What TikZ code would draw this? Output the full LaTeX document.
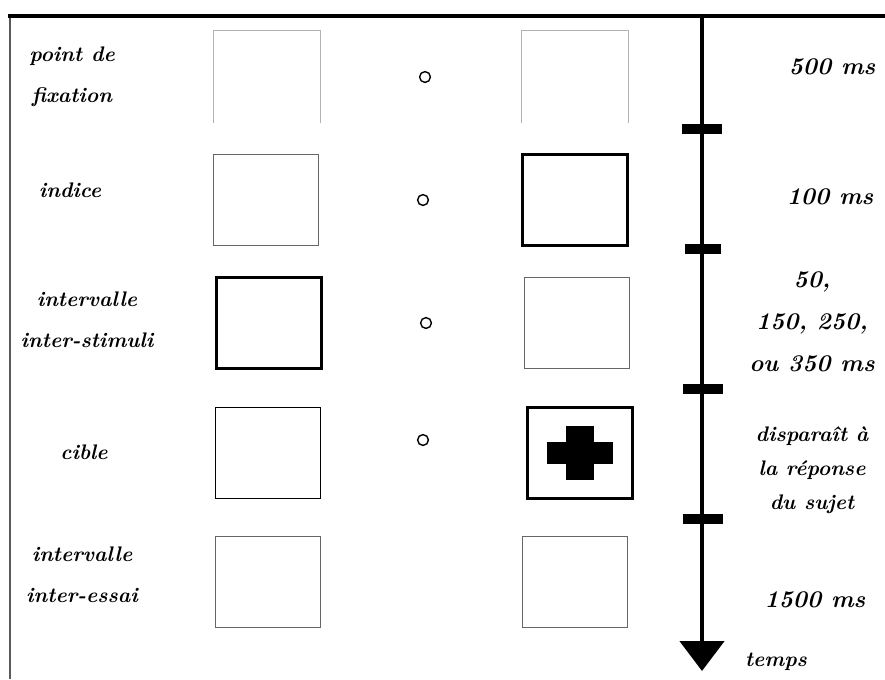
\documentclass[tikz,border=0pt]{standalone}
\usetikzlibrary{arrows.meta}
\tikzset{
  screen/.style={draw=gray!80!black, line width=1.2pt, minimum width=2.625cm, minimum height=2.275cm, inner sep=0pt},
  darkscreen/.style={screen, draw=black, line width=2pt},
  fixdot/.style={circle, draw, line width=1pt, minimum size=0.27cm, inner sep=0pt},
  timetick/.style={fill=black, minimum width=1cm, minimum height=0.25cm, inner sep=0pt},
  bar/.style={fill=black, inner sep=0pt},
  lbl/.style={align=center, inner sep=1pt, font=\fontsize{15}{29}\selectfont\bfseries\itshape},
  dur/.style={lbl, font=\fontsize{17}{30}\selectfont\bfseries\itshape},
}
\begin{document}
\begin{tikzpicture}[x=0.025cm,y=-0.025cm]
\useasboundingbox (0,0) rectangle (885,679);

% frame
\draw[gray!70!black, line width=1.2pt] (10,16) -- (10,679);
\draw[line width=2.2pt] (8,16) -- (885,16);

% screens, left and right of the fixation point
\node[screen, draw=none] (fixL) at (267,77) {};
\node[screen, draw=none] (fixR) at (575,77) {};
\draw[gray!60, line width=1.2pt] (fixL.south west) |- (fixL.north east) -- (fixL.south east);
\draw[gray!60, line width=1.2pt] (fixR.south west) |- (fixR.north east) -- (fixR.south east);
\node[screen] (cueL) at (266,200) {};
\node[darkscreen] (cueR) at (575,200) {};
\node[darkscreen, line width=1.6pt] (isiL) at (269,323) {};
\node[screen] (isiR) at (577,323) {};
\node[screen, draw=black] (tgtL) at (268,453) {};
\node[darkscreen] (tgtR) at (580,453) {};
\node[screen] (itiL) at (268,582) {};
\node[screen] (itiR) at (575,582) {};

% fixation point
\node[fixdot] (dot1) at (425,77) {};
\node[fixdot] (dot2) at (423,200) {};
\node[fixdot] (dot3) at (426,323) {};
\node[fixdot] (dot4) at (423,440) {};

% target
\node[bar, minimum width=1.65cm, minimum height=0.55cm] (crossH) at (tgtR) {};
\node[bar, minimum width=0.72cm, minimum height=1.33cm] (crossV) at (tgtR) {};

% time axis
\coordinate (tTop) at (702,16);
\coordinate (tEnd) at (702,671);
\draw[line width=3.5pt, -{Triangle[width=1.1cm, length=0.75cm]}] (tTop) -- (tEnd);
\node[timetick] (tick1) at (702,129) {};
\node[timetick, minimum width=0.9cm] (tick2) at (703,249) {};
\node[timetick] (tick3) at (703,389) {};
\node[timetick] (tick4) at (703,519) {};

% phase names
\node[lbl] (nFix) at (72,77) {point de\\fixation};
\node[lbl] (nCue) at (70,190) {indice};
\node[lbl] (nIsi) at (87,320) {intervalle\\inter-stimuli};
\node[lbl] (nTgt) at (84,452) {cible};
\node[lbl] (nIti) at (82,575) {intervalle\\inter-essai};

% durations
\node[dur] (dFix) at (832,67) {500 ms};
\node[dur] (dCue) at (830,197) {100 ms};
\node[dur] (dIsi) at (812,322) {50,\\150, 250,\\ou 350 ms};
\node[lbl] (dTgt) at (812,470) [font=\fontsize{15}{24}\selectfont\bfseries\itshape] {disparaît à\\la réponse\\du sujet};
\node[dur] (dIti) at (815,600) {1500 ms};
\node[lbl] (tLabel) at (776,662) {temps};
\end{tikzpicture}
\end{document}
